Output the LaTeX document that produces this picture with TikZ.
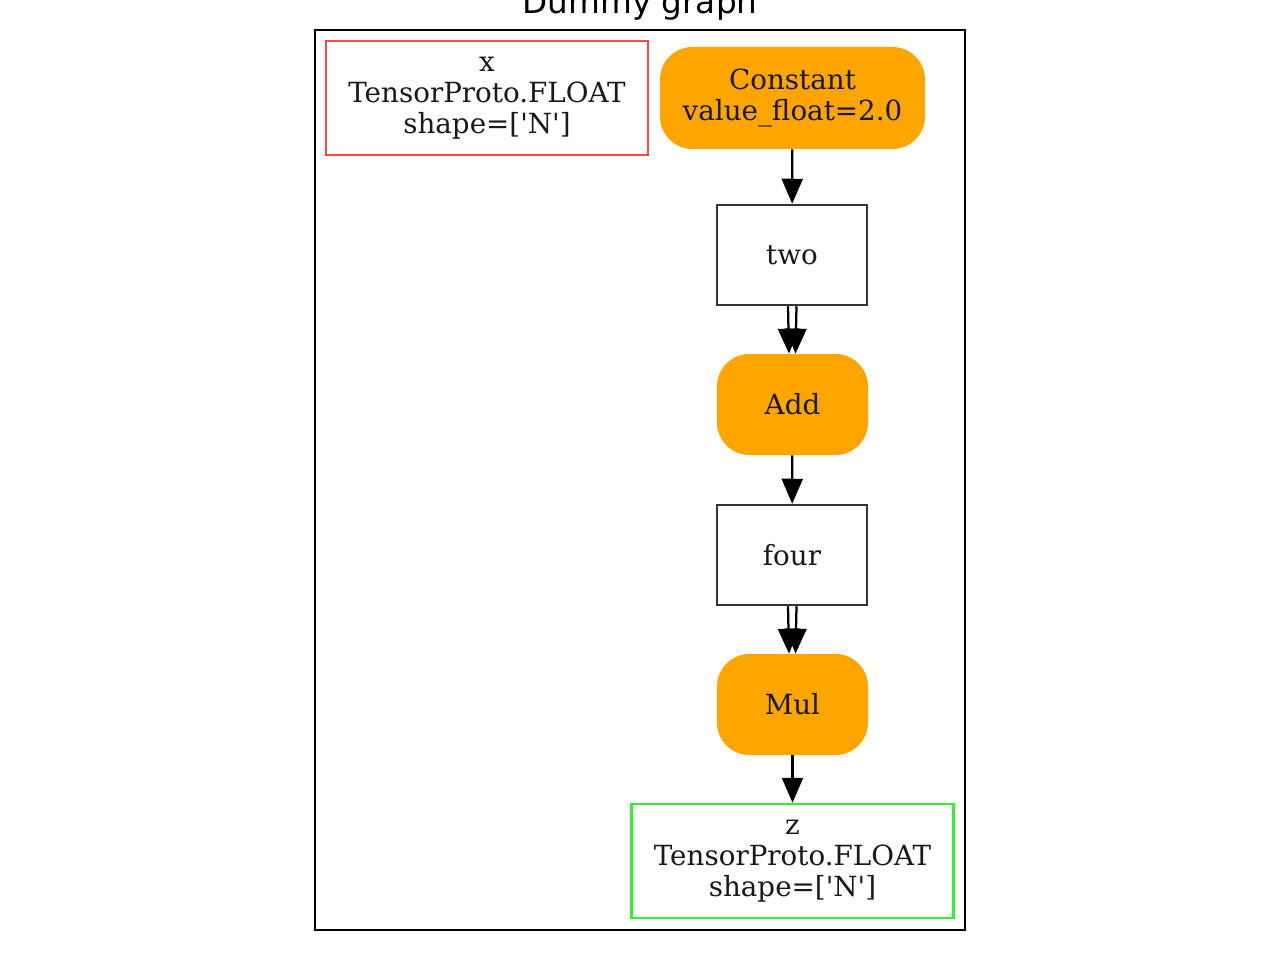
\documentclass[tikz,border=0pt]{standalone}
\usepackage{fontspec}
\setmainfont{DejaVu Serif}
\newfontfamily\titlefont{DejaVu Sans}
\usetikzlibrary{arrows.meta, positioning}
\definecolor{opfill}{HTML}{FFA500}
\definecolor{inred}{HTML}{FF4848}
\definecolor{outgreen}{HTML}{33F033}
\definecolor{boxgray}{HTML}{333333}
\newcommand{\qt}{\textquotesingle}

\begin{document}
\begin{tikzpicture}[
    lbl/.style={align=center,text=black!90,font=\fontsize{15.8}{17.8}\selectfont},
    tensor/.style={lbl,draw,line width=0.05cm,minimum width=6.44cm,minimum height=2.28cm},
    op/.style={lbl,fill=opfill,rounded corners=0.65cm,minimum width=3.02cm,minimum height=2.02cm},
    var/.style={lbl,draw=boxgray,line width=0.05cm,minimum width=3cm,minimum height=2cm},
    edge/.style={line width=0.045cm,-{Triangle[length=0.5cm,width=0.42cm]}}]
    \useasboundingbox (0,0) rectangle (25.6,-19.2);
    \node[font=\titlefont\fontsize{18.6}{20}\selectfont,anchor=base] (Title) at (12.8,-0.28) {Dummy graph};
    \draw[line width=0.04cm] (6.3,-0.6) rectangle (19.3,-18.6);
    \node[tensor,draw=inred] (X) at (9.74,-1.96) {x\\TensorProto.FLOAT\\shape=[\qt N\qt]};
    \node[op,minimum width=5.3cm,minimum height=2.04cm] (Const) at (15.85,-1.96) {Constant\\value\_float=2.0};
    \node[var] (Two) at (15.84,-5.1) {two};
    \node[op] (Add) at (15.85,-8.09) {Add};
    \node[var] (Four) at (15.84,-11.1) {four};
    \node[op] (Mul) at (15.85,-14.09) {Mul};
    \node[tensor,draw=outgreen] (Z) at (15.85,-17.22) {z\\TensorProto.FLOAT\\shape=[\qt N\qt]};
    \draw[edge] (Const) -- (Two);
    \draw[edge] ([xshift=-0.08cm]Two.south) -- ([xshift=-0.07cm]Add.north);
    \draw[edge] ([xshift=0.09cm]Two.south) -- ([xshift=0.06cm]Add.north);
    \draw[edge] (Add) -- (Four);
    \draw[edge] ([xshift=-0.08cm]Four.south) -- ([xshift=-0.07cm]Mul.north);
    \draw[edge] ([xshift=0.09cm]Four.south) -- ([xshift=0.06cm]Mul.north);
    \draw[edge] (Mul) -- (Z);
\end{tikzpicture}
\end{document}
